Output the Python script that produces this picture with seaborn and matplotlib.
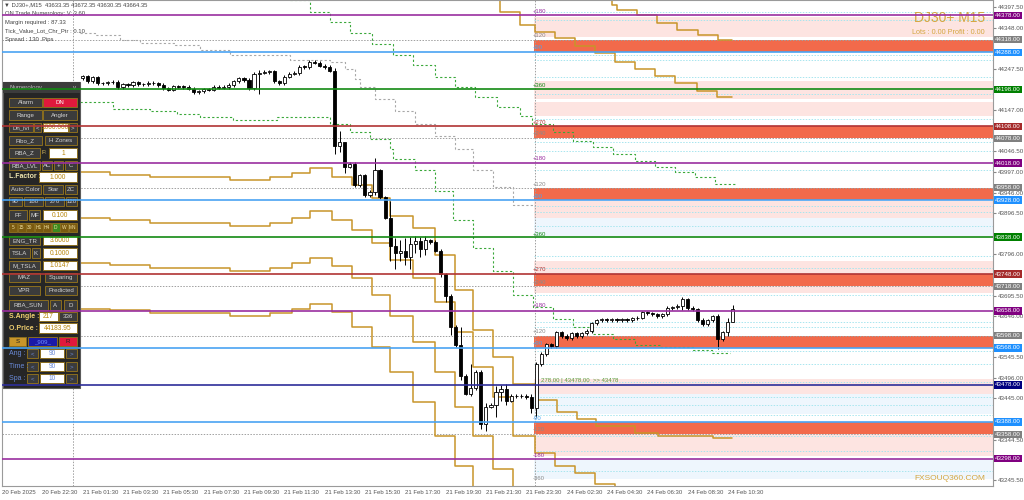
import numpy as np
import pandas as pd
import seaborn as sns
import matplotlib.pyplot as plt
import matplotlib.transforms as mtrans
from matplotlib.patches import Rectangle

sns.set_style("white")
plt.rcParams["font.family"] = ["Liberation Sans", "DejaVu Sans"]

# ==========================
# Data
# ==========================
x_ticks = list(range(0, 152, 8))
x_labels = ["20 Feb 2025", "20 Feb 22:30", "21 Feb 01:30", "21 Feb 03:30", "21 Feb 05:30",
            "21 Feb 07:30", "21 Feb 09:30", "21 Feb 11:30", "21 Feb 13:30", "21 Feb 15:30",
            "21 Feb 17:30", "21 Feb 19:30", "21 Feb 21:30", "21 Feb 23:30", "24 Feb 02:30",
            "24 Feb 04:30", "24 Feb 06:30", "24 Feb 08:30", "24 Feb 10:30"]
y_ticks = [44397.5, 44348.0, 44247.5, 44147.0, 44046.5, 43997.0, 43946.0, 43896.5, 43796.0,
           43695.5, 43646.0, 43545.5, 43496.0, 43445.0, 43344.5, 43245.5]

first_bar = 16
first_open = 44224
closes = [44229, 44217, 44227, 44212, 44212, 44215, 44216, 44203, 44210, 44207,
          44215, 44210, 44210, 44214, 44212, 44208, 44200, 44197, 44205, 44204,
          44203, 44199, 44190, 44193, 44198, 44197, 44203, 44202, 44203, 44208,
          44217, 44224, 44220, 44200, 44236, 44238, 44240, 44241, 44217, 44212,
          44228, 44236, 44237, 44253, 44252, 44265, 44262, 44255, 44252, 44243,
          44060, 44070, 44009, 44017, 43964, 43988, 43940, 43948, 44000, 43935,
          43885, 43815, 43800, 43805, 43790, 43822, 43828, 43810, 43830, 43826,
          43805, 43748, 43695, 43620, 43575, 43500, 43457, 43470, 43510, 43382,
          43425, 43430, 43460, 43468, 43440, 43452, 43450, 43452, 43448, 43422,
          43529, 43553, 43577, 43572, 43606, 43597, 43592, 43604, 43596, 43604,
          43609, 43628, 43635, 43638, 43636, 43638, 43635, 43638, 43636, 43640,
          43642, 43655, 43652, 43650, 43646, 43650, 43665, 43667, 43670, 43686,
          43665, 43662, 43636, 43626, 43635, 43645, 43590, 43606, 43630, 43664]
wick_bars = [50, 51, 66, 67, 68, 74, 77, 78, 79, 80, 81, 82, 83, 84, 87, 88, 89, 91, 93,
             95, 96, 98, 99, 100, 105, 106, 135, 142, 144, 145]
wick_high = [44240, 44245, 44250, 44096, 44060, 44030, 43925, 43835, 43830, 43835, 43838,
             43840, 43838, 43840, 43810, 43750, 43700, 43618, 43529, 43515, 43435, 43475,
             43478, 43480, 43455, 43535, 43692, 43650, 43640, 43672]
wick_low = [44195, 44186, 44040, 44045, 43995, 43940, 43780, 43760, 43780, 43770, 43760,
            43800, 43790, 43795, 43740, 43680, 43600, 43490, 43450, 43370, 43365, 43400,
            43440, 43430, 43410, 43400, 43660, 43565, 43598, 43630]

# horizontal numerology levels
levels = [44378, 44288, 44198, 44108, 44018, 43928, 43838, 43748, 43658, 43568, 43478, 43388, 43298]
level_kind = ["purple", "blue", "green", "red", "purple", "blue", "green", "red", "purple",
              "blue", "navy", "blue", "purple"]
gray_levels = [44318, 44078, 43958, 43718, 43598, 43358]

# right side zones
zone_lo = [44326, 44288, 44175, 44133, 44078, 43928, 43884, 43840, 43703, 43718, 43568, 43457,
           43408, 43358, 43305, 43249]
zone_hi = [44374, 44318, 44217, 44166, 44108, 43958, 43925, 43884, 43780, 43748, 43598, 43493,
           43457, 43388, 43358, 43297]
zone_kind = ["pink", "red", "pink", "pink", "red", "red", "pink", "blue", "pink", "red", "red",
             "pink", "blue", "red", "pink", "blue"]
cyan_levels = [44386, 44367, 44282, 44270, 44227, 44186, 44125, 44070, 44048, 44000, 43913,
               43898, 43865, 43792, 43763, 43696, 43630, 43618, 43560, 43529, 43486, 43449,
               43430, 43406, 43353, 43317, 43268]

angle_price = [44388, 44328, 44299, 44207, 44116, 44089, 44029, 43966, 43937, 43845, 43758,
               43727, 43672, 43609, 43580, 43396, 43370, 43307, 43251]
angle_text = ["+180", "+120", "+90", "+360", "+270", "+240", "+180", "+120", "+90", "+360",
              "+270", "+240", "+180", "+120", "+90", "-90", "-120", "-180", "-360"]
angle_kind = ["purple", "gray", "blue", "green", "red", "gray", "purple", "gray", "blue", "green",
              "red", "gray", "purple", "gray", "blue", "blue", "gray", "purple", "gray"]

# stepped angle lines (bar index, price)
gold_lines = [
    ([0, 21.4, 29.4, 45.2, 53.2, 57.5, 61.1, 65.5, 69.4, 73.4, 77.0, 81.5, 85.9, 89.9, 93.5,
      97.4, 101.4, 106.0, 110.1, 114.1, 117.9, 125.6, 130.2, 141.1, 144.8],
     [43997, 43990, 43983, 43976, 43983, 43995, 44007, 43985, 43964, 43932, 43889, 43860, 43795,
      43708, 43611, 43546, 43481, 43442, 43413, 43394, 43379, 43360, 43353, 43348, 43348]),
    ([0, 21.4, 29.4, 45.2, 53.2, 57.5, 61.1, 65.5, 69.4, 73.4, 77.0, 81.5, 85.9, 89.9, 93.5,
      97.4, 101.4, 105.8, 109.7, 113.7, 117.7, 121.6],
     [43884, 43879, 43872, 43865, 43872, 43884, 43901, 43879, 43855, 43824, 43783, 43739, 43679,
      43606, 43522, 43449, 43353, 43312, 43280, 43263, 43237, 43208]),
    ([0, 21.4, 29.4, 45.2, 53.2, 57.5, 61.1, 65.5, 69.4, 73.4, 77.0, 81.5, 85.9, 89.9, 93.5,
      97.4, 101.4],
     [43775, 43770, 43763, 43756, 43763, 43775, 43787, 43768, 43739, 43698, 43647, 43582, 43510,
      43425, 43353, 43273, 43208]),
    ([0, 21.4, 29.4, 45.2, 53.2, 57.5, 61.1, 65.5, 69.4, 73.4, 77.0, 81.5, 85.9, 89.9, 93.5],
     [43662, 43660, 43652, 43645, 43652, 43662, 43676, 43655, 43618, 43570, 43510, 43437, 43353,
      43280, 43208]),
    ([94.8, 98.8, 102.8, 105.8, 109.7, 113.7, 117.7, 121.6, 125.6, 129.6, 133.5, 137.9, 141.9,
      144.8],
     [44427, 44386, 44355, 44338, 44323, 44302, 44287, 44265, 44248, 44229, 44212, 44193, 44178,
      44178]),
    ([116, 121, 122, 126, 130, 134, 138, 142, 144.8],
     [44440, 44403, 44391, 44379, 44359, 44343, 44331, 44318, 44318]),
]
green_dots = [
    ([15.5, 22.0, 29.4, 34.7, 39.3, 45.8, 54.6, 65.1, 69.0, 73.0, 77.0, 77.6, 81.9, 85.9, 89.5,
      93.5, 97.4, 101.4, 105.4, 109.3, 113.3, 117.3, 121.2, 125.6, 130.6, 137.1, 140.9, 144.4],
     [44166, 44149, 44145, 44137, 44130, 44123, 44130, 44113, 44094, 44077, 44053, 44029, 44000,
      43949, 43879, 43811, 43756, 43698, 43667, 43638, 43618, 43602, 43590, 43575, 43570, 43563,
      43556, 43556]),
    ([57.1, 61.1, 65.1, 69.0, 73.4, 77.6, 81.5, 85.9, 89.9, 93.9, 98.2, 102.8, 105.2, 109.3,
      113.3, 117.3, 121.2, 125.6, 129.6, 133.5, 137.5, 141.5, 145.4],
     [44415, 44386, 44362, 44335, 44309, 44282, 44256, 44227, 44203, 44178, 44154, 44133, 44113,
      44094, 44072, 44058, 44041, 44022, 44009, 43997, 43983, 43968, 43968]),
]
gray_dots = [
    ([15.5, 18.5, 23.4, 27.4, 34.3, 39.3, 45.2, 57.1, 65.1, 68.1, 70.0, 71.0, 74.0, 78.0, 81.9,
      85.9, 89.9, 93.5, 97.4, 101.4, 105.4],
     [44335, 44331, 44318, 44311, 44306, 44294, 44282, 44270, 44263, 44246, 44222, 44203, 44174,
      44145, 44113, 44084, 44053, 44000, 43959, 43915, 43915]),
]

# ==========================
# Figure
# ==========================
fig = plt.figure(figsize=(10.24, 5), dpi=100)
fig.patch.set_facecolor("white")
box = [2 / 1024, 14 / 500, 991 / 1024, 486 / 500]
ax = fig.add_axes(box, zorder=1)
ax.set_xlim(0, 196.6)
ax.set_ylim(43232, 44415)

zone_colors = {"pink": "#fde4e1", "red": "#f26a4b", "blue": "#eef6fd"}
for lo, hi, k in zip(zone_lo, zone_hi, zone_kind):
    ax.fill_between([105.5, 196.6], lo, hi, color=zone_colors[k], lw=0, zorder=0)
for lv in cyan_levels:
    ax.plot([105.5, 196.6], [lv, lv], color="#a8e6ef", lw=0.7, ls=(0, (1.5, 1.5)), zorder=0.5)
for lv in gray_levels:
    ax.axhline(lv, color="#a0a0a0", lw=0.7, ls=(0, (1.5, 1.5)), zorder=0.6)
ax.axvline(14, color="#a0a0a0", lw=0.7, ls=(0, (1.5, 1.5)))
ax.axvline(105.8, color="#a0a0a0", lw=0.7, ls=(0, (1.5, 1.5)))

for xs, ys in gold_lines:
    sns.lineplot(x=xs, y=ys, ax=ax, color="#c8952a", lw=1.1, drawstyle="steps-post",
                 sort=False, zorder=2)
for xs, ys in green_dots:
    sns.lineplot(x=xs, y=ys, ax=ax, color="#3aa83a", lw=0.8, ls=(0, (2, 2)),
                 drawstyle="steps-post", sort=False, zorder=2)
for xs, ys in gray_dots:
    sns.lineplot(x=xs, y=ys, ax=ax, color="#a8a8a8", lw=0.8, ls=(0, (2, 2)),
                 drawstyle="steps-post", sort=False, zorder=2)

# candles
bars = np.arange(first_bar, first_bar + len(closes))
opens = np.array([first_open] + closes[:-1], dtype=float)
cl = np.array(closes, dtype=float)
hi = np.maximum(opens, cl) + 4
lo = np.minimum(opens, cl) - 4
for b, h, l in zip(wick_bars, wick_high, wick_low):
    hi[b - first_bar] = h
    lo[b - first_bar] = l
candles = pd.DataFrame({"bar": bars, "open": opens, "close": cl, "high": hi, "low": lo})
candles["up"] = candles["close"] >= candles["open"]
ax.vlines(candles["bar"], candles["low"], candles["high"], color="black", lw=0.7, zorder=3)
body = (candles["close"] - candles["open"]).abs().clip(lower=1.5)
base = candles[["open", "close"]].min(axis=1)
ax.bar(candles["bar"], body, bottom=base, width=0.62,
       color=np.where(candles["up"], "white", "black"), edgecolor="black", lw=0.6, zorder=4)

ax.set_xticks(x_ticks)
ax.set_xticklabels(x_labels, fontsize=4.3, color="#555555", ha="left")
ax.yaxis.tick_right()
ax.set_yticks(y_ticks)
ax.set_yticklabels([f"{v:.2f}" for v in y_ticks], fontsize=4.5, color="#555555")
ax.tick_params(length=2, pad=1.2, color="#888888")
for s in ax.spines.values():
    s.set_color("#9a9a9a")
    s.set_linewidth(0.8)

# ==========================
# Indicator panel
# ==========================
pax = fig.add_axes([0, 0, 1, 1], zorder=2)
pax.set_xlim(0, 1024)
pax.set_ylim(500, 0)
pax.axis("off")
pax.patch.set_alpha(0)

edge = "#8a6d1f"


def btn(x0, x1, y0, y1, label, face="#3b3b3b", tc="#d4d4d4", fs=4.4):
    pax.add_patch(Rectangle((x0, y0), x1 - x0, y1 - y0, facecolor=face, edgecolor=edge, lw=0.7))
    pax.text((x0 + x1) / 2, (y0 + y1) / 2 + 0.3, label, color=tc, fontsize=fs,
             ha="center", va="center")


def box_(x0, x1, y0, y1, label, tc="#b8860b"):
    btn(x0, x1, y0, y1, label, face="white", tc=tc, fs=4.8)


pax.add_patch(Rectangle((3, 82), 77, 306, facecolor="#262626", edgecolor="#5a5a5a", lw=0.8))
pax.add_patch(Rectangle((3, 82), 77, 11, facecolor="#3c3c3c", edgecolor="none"))
pax.text(10, 87.5, "Numerology", color="#bbbbbb", fontsize=4.4, va="center")
pax.text(75, 87.5, "v", color="#bbbbbb", fontsize=4.4, va="center", ha="center")
btn(9, 42, 98, 107, "Alarm")
btn(43, 77, 98, 107, "DN", face="#e0193c", tc="white")
btn(9, 42, 110, 120, "Range")
btn(43, 77, 110, 120, "Angler")
btn(9, 33, 123, 132, "Dn_lvl")
btn(34, 41, 123, 132, "<")
box_(43, 68, 123, 132, "1000.000")
btn(69, 77, 123, 132, ">")
btn(9, 42, 136, 145, "Fibo_Z")
btn(45, 77, 136, 145, "H Zones")
btn(9, 40, 148, 158, "RBA_Z")
pax.text(44, 153, "F:", color="#e0c060", fontsize=4.6, va="center", ha="center")
box_(49, 77, 148, 158, "1")
btn(9, 40, 161, 170, "RBA_LVL")
btn(42, 52, 161, 170, "AC")
btn(54, 63, 161, 170, "+")
btn(65, 77, 161, 170, "C")
pax.text(9, 177, "L.Factor :", color="#f0e6b0", fontsize=5, va="center", weight="bold")
box_(39, 77, 172, 182, "1.000")
btn(9, 41, 185, 194, "Auto Color")
btn(43, 63, 185, 194, "Star")
btn(65, 77, 185, 194, "ZC")
for x0, x1, t in [(9, 22, "90"), (24, 43, "180"), (45, 64, "270"), (66, 77, "120")]:
    btn(x0, x1, 197, 206, t)
btn(9, 27, 210, 220, "FF")
btn(29, 40, 210, 220, "MF")
box_(43, 77, 210, 220, "0.100")
tf = ["5", "15", "30", "H1", "H4", "D", "W", "MN"]
for i, t in enumerate(tf):
    x0 = 9 + i * 8.5
    btn(x0, x0 + 8, 223, 232, t, face="#3e8a1e" if t == "D" else "#7a5a10", tc="#f0e0a0", fs=3.5)
btn(9, 40, 236, 245, "ENG_TR")
box_(43, 77, 236, 245, "3.6000")
btn(9, 30, 248, 258, "TSLA")
btn(32, 40, 248, 258, "K")
box_(43, 77, 248, 258, "0.1000")
btn(9, 40, 261, 270, "M_TSLA")
box_(43, 77, 261, 270, "1.0147")
btn(9, 40, 273, 282, "MAZ")
btn(45, 77, 273, 282, "Squaring")
btn(9, 40, 286, 295, "VPR")
btn(45, 77, 286, 295, "Predicted")
btn(9, 48, 300, 310, "RBA_SUN")
btn(50, 61, 300, 310, "A")
btn(64, 77, 300, 310, "D")
pax.text(9, 316.5, "S.Angle :", color="#f0d070", fontsize=5, va="center", weight="bold")
box_(39, 58, 312, 321, "217")
btn(59, 77, 312, 321, "336")
pax.text(9, 328, "O.Price :", color="#f0d070", fontsize=5, va="center", weight="bold")
box_(39, 77, 323, 333, "44183.95")
btn(9, 26, 337, 346, "S", face="#c8952a", tc="#222222")
btn(28, 57, 337, 346, "_909_", face="#1a1aa8", tc="#7090ff")
btn(59, 77, 337, 346, "R", face="#e0193c", tc="#222222")
for y0, t, v in [(349, "Ang :", "90"), (362, "Time :", "90"), (374, "Spa :", "10")]:
    pax.text(9, y0 + 4.5, t, color="#6a8ad8", fontsize=5, va="center")
    btn(27, 38, y0, y0 + 9, "<", tc="#6a8ad8")
    box_(40, 64, y0, y0 + 9, v, tc="#6a8ad8")
    btn(66, 77, y0, y0 + 9, ">", tc="#6a8ad8")

# ==========================
# Levels on top
# ==========================
lax = fig.add_axes(box, zorder=3, sharex=ax, sharey=ax)
lax.axis("off")
lax.patch.set_alpha(0)
line_colors = {"purple": "#9a2fa0", "blue": "#4aa3f2", "green": "#138a13", "red": "#b03434",
               "navy": "#2e2e9a", "gray": "#8a8a8a"}
label_colors = {"purple": "#800080", "blue": "#1e90ff", "green": "#008000", "red": "#a52a2a",
                "navy": "#000080", "gray": "#808080"}
for lv, k in zip(levels, level_kind):
    lax.axhline(lv, color=line_colors[k], lw=1.2)

tr = mtrans.blended_transform_factory(ax.transAxes, ax.transData)
for lv, k in list(zip(levels, level_kind)) + [(g, "gray") for g in gray_levels]:
    lax.text(1.002, lv, f"{lv:.2f}", transform=tr, fontsize=4.4, color="white",
             va="center", ha="left", clip_on=False,
             bbox=dict(facecolor=label_colors[k], edgecolor="none", pad=0.8))
for p, t, k in zip(angle_price, angle_text, angle_kind):
    lax.text(105.2, p, t, fontsize=4.3, color=line_colors[k], va="center", ha="left")
lax.text(107, 43490, "278.00 | 43478.00  >> 43478", fontsize=4.3, color="#5a9a3a",
         va="center", ha="left")

# ==========================
# Texts
# ==========================
info = ["\u25bc DJ30+,M15  43633.35 43672.35 43630.35 43664.35",
        "ON Trade Numerology: V: 3.60",
        "Margin required : 87.33",
        "Tick_Value_Lot_Chr_Ptr : 0.10",
        "Spread : 130  Pips"]
for i, t in enumerate(info):
    pax.text(4 if i == 0 else 5, 5 + i * 8.6, t, fontsize=4.2, color="#444444", va="center")
pax.text(985, 18, "DJ30+ M15", fontsize=10, color="#d4a640", ha="right", va="center")
pax.text(985, 33, "Lots : 0.00 Profit : 0.00", fontsize=5.2, color="#d4a640", ha="right",
         va="center")
pax.text(985, 478, "FXSOUQ360.COM", fontsize=6, color="#d4a640", ha="right", va="center")

fig.savefig("out.png", dpi=100, facecolor="white")
